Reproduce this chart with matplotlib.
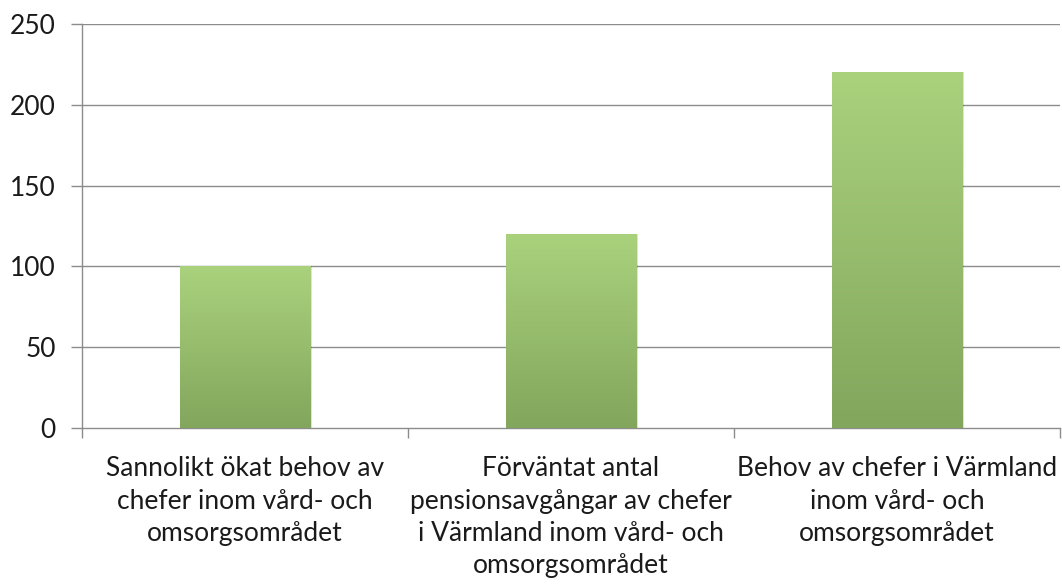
import matplotlib.pyplot as plt
import numpy as np
from matplotlib.colors import LinearSegmentedColormap

categories = [
    "Sannolikt ökat behov av\nchefer inom vård- och\nomsorgsområdet",
    "Förväntat antal\npensionsavgångar av chefer\ni Värmland inom vård- och\nomsorgsområdet",
    "Behov av chefer i Värmland\ninom vård- och\nomsorgsområdet",
]
values = [100, 120, 220]
yticks = [0, 50, 100, 150, 200, 250]

plt.rcParams['font.family'] = ['Lato', 'DejaVu Sans']

fig = plt.figure(figsize=(10.62, 5.84), dpi=100)
ax = fig.add_axes([82 / 1062, 1 - 428 / 584, (1060 - 82) / 1062, (428 - 24) / 584])

grid_c = '#8c8c8c'
ax.set_xlim(0, len(categories))
ax.set_ylim(0, 250)
for t in yticks[1:]:
    ax.axhline(t, color=grid_c, lw=1.0, zorder=1)

cmap = LinearSegmentedColormap.from_list('g', ['#82a65c', '#aad27d'])
grad = np.linspace(0, 1, 256).reshape(-1, 1)
w = 0.4
for i, v in enumerate(values):
    x0 = i + 0.5 - w / 2
    # faint shadow
    ax.add_patch(plt.Rectangle((x0 + 0.006, 0), w, v, color='#000000', alpha=0.12, lw=0, zorder=2))
    im = ax.imshow(grad, extent=(x0, x0 + w, 0, v), origin='lower', cmap=cmap,
                   aspect='auto', zorder=3)
    rect = plt.Rectangle((x0, 0), w, v, transform=ax.transData, fill=False, lw=0)
    ax.add_patch(rect)
    im.set_clip_path(rect)

ax.set_xlim(0, len(categories))
ax.set_ylim(0, 250)

for s in ['top', 'right']:
    ax.spines[s].set_visible(False)
for s in ['left', 'bottom']:
    ax.spines[s].set_color(grid_c)
    ax.spines[s].set_linewidth(1.0)

ax.set_yticks(yticks)
ax.set_yticklabels([str(t) for t in yticks], fontsize=19, color='#1a1a1a')
ax.tick_params(axis='y', length=8, width=1.0, color=grid_c, pad=11)

ax.set_xticks(np.arange(len(categories) + 1))
ax.set_xticklabels([])
ax.tick_params(axis='x', length=7, width=1.0, color=grid_c)
for i, c in enumerate(categories):
    ax.text(i + 0.5, -0.07, c, transform=ax.get_xaxis_transform(), ha='center', va='top',
            fontsize=19, color='#1a1a1a', linespacing=1.37)

fig.savefig('out.png', dpi=100)
